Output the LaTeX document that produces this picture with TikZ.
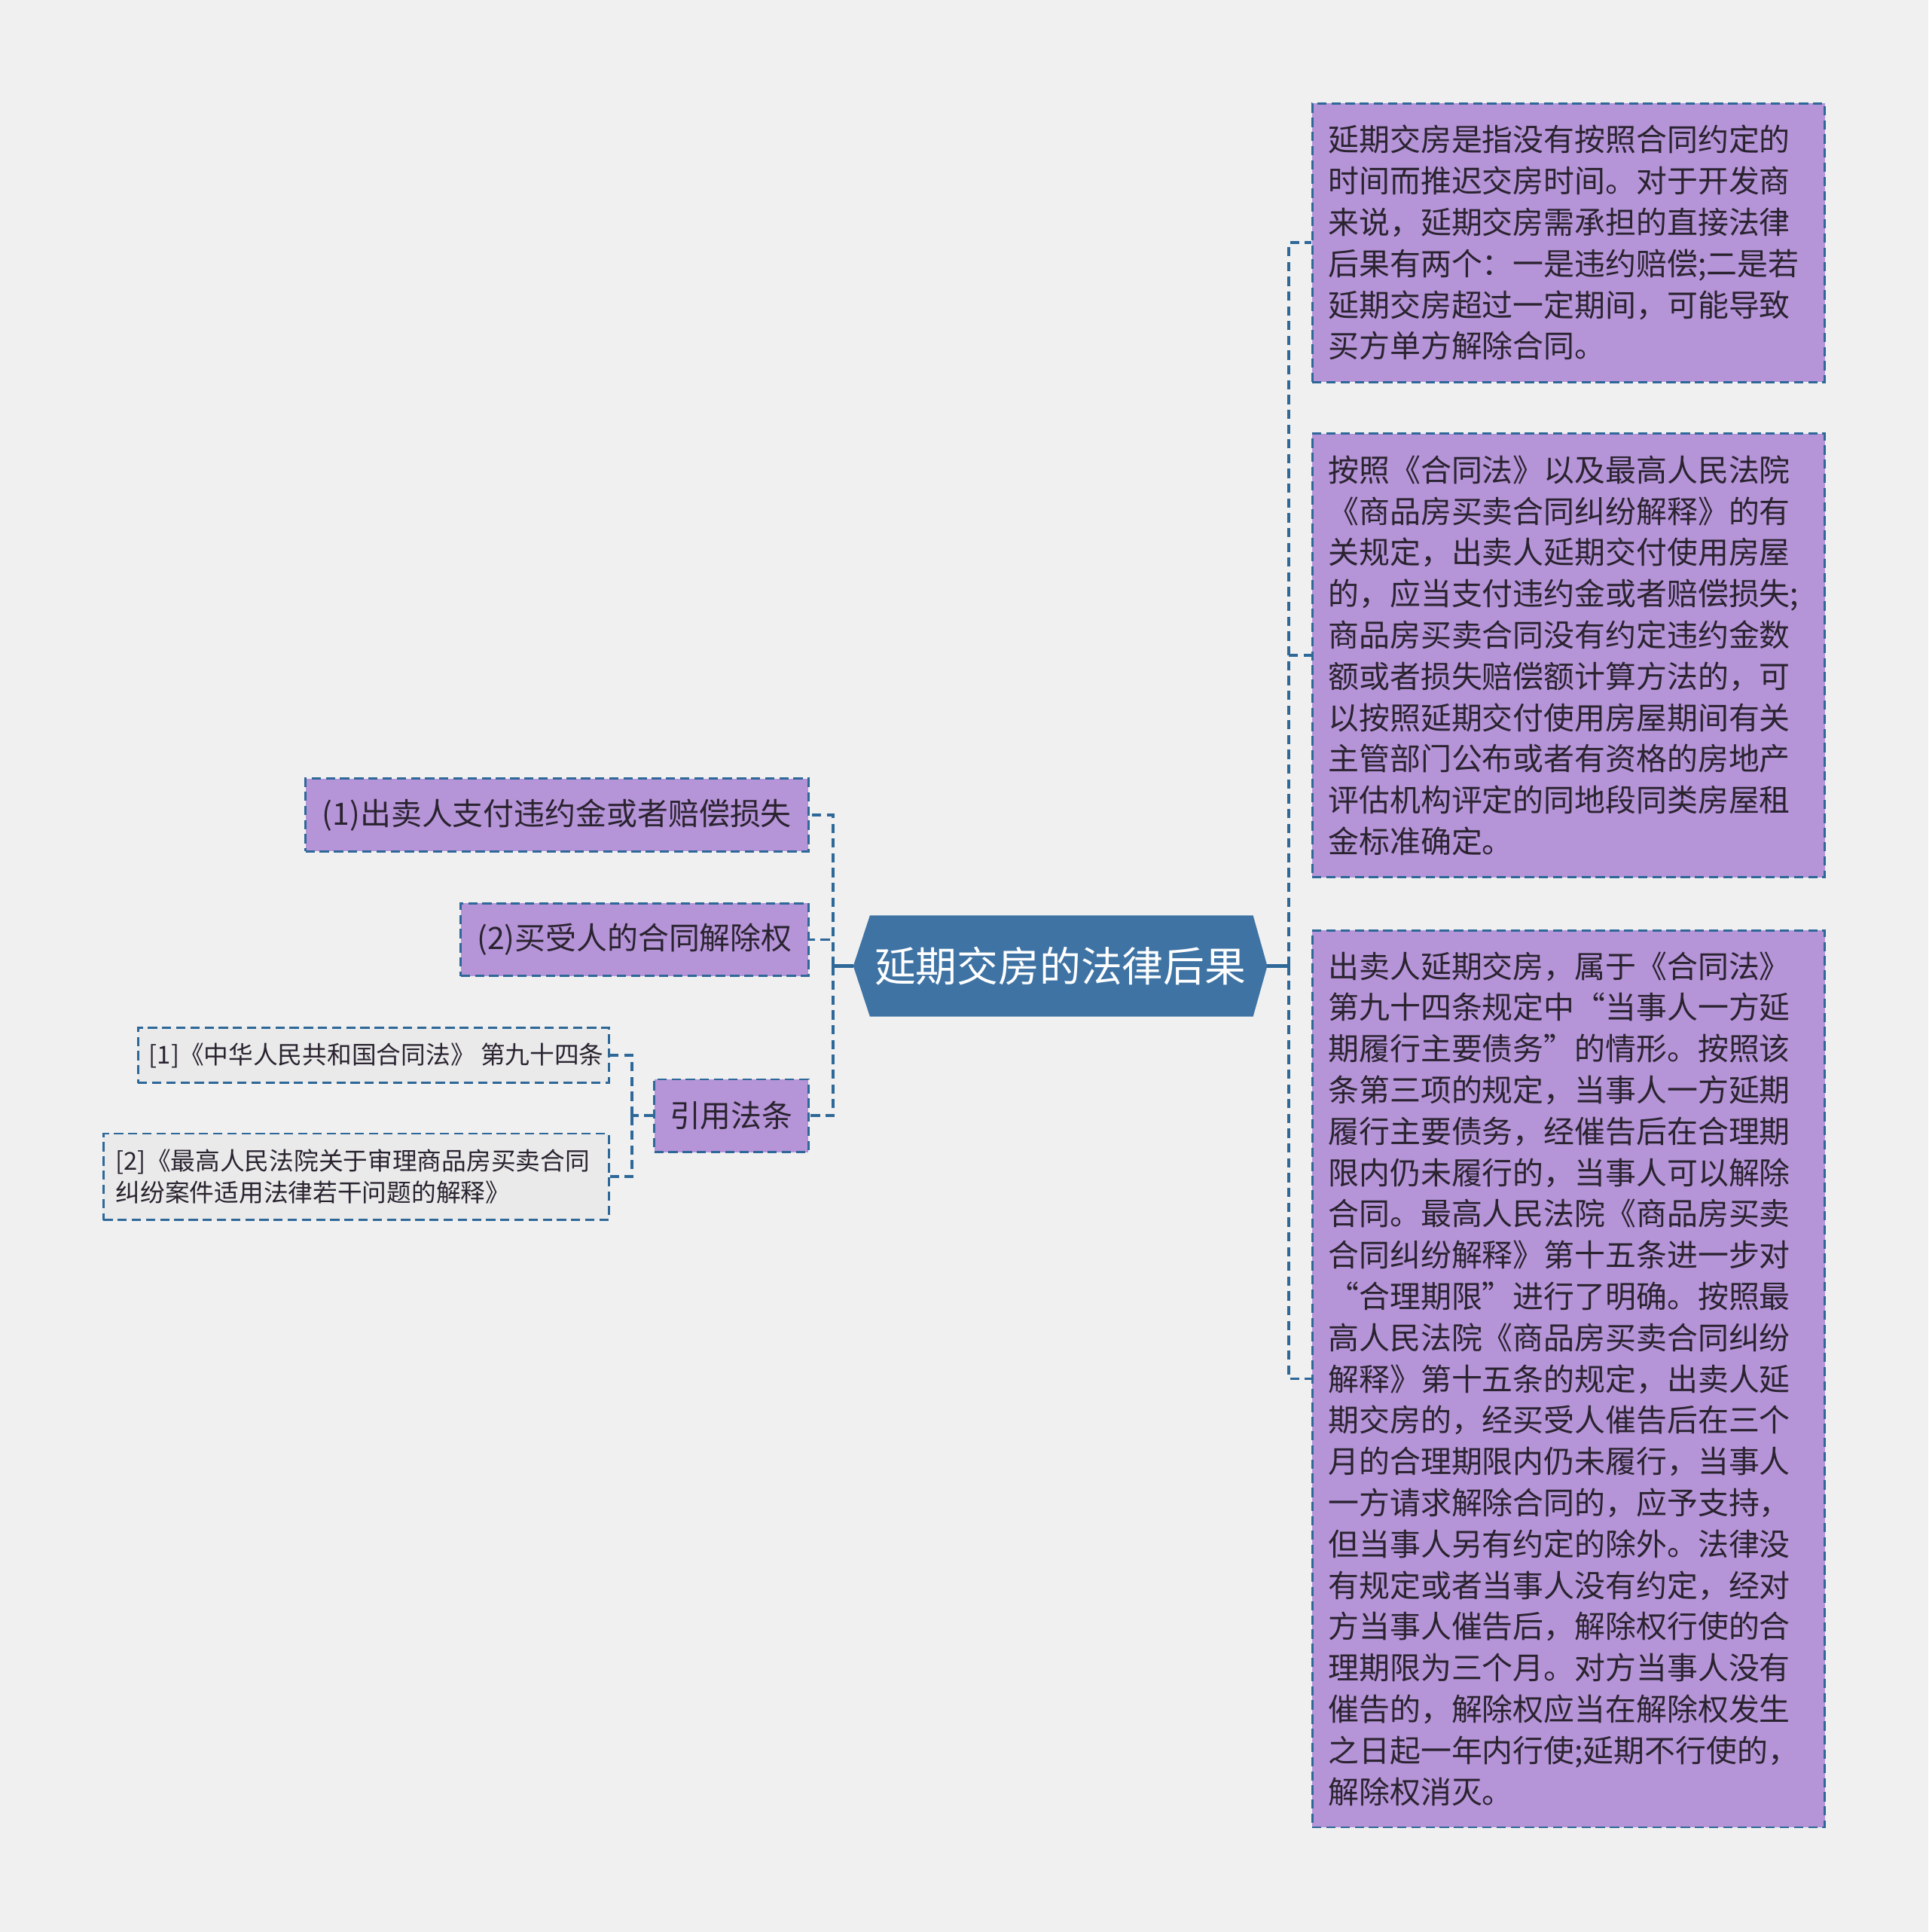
\documentclass[tikz,border=0pt]{standalone}
\usepackage{fontspec}
\setmainfont{Noto Sans CJK SC}
\usetikzlibrary{backgrounds}

\definecolor{bgcol}{RGB}{240,240,240}
\definecolor{leafpurple}{RGB}{182,148,216}
\definecolor{linkblue}{RGB}{46,104,152}
\definecolor{rootblue}{RGB}{62,115,164}
\definecolor{txtcol}{RGB}{42,35,48}
\definecolor{reffill}{RGB}{234,234,234}

\tikzset{
  leaf/.style={draw=linkblue, line width=0.7pt, dash pattern=on 3pt off 1.6pt,
    fill=leafpurple, text=txtcol, inner sep=0pt,
    font=\fontsize{10pt}{13.4pt}\selectfont},
  note/.style={leaf, align=left, text width=156pt},
  ref/.style={leaf, fill=reffill, font=\fontsize{8pt}{10.4pt}\selectfont},
  link/.style={draw=linkblue, line width=0.9pt, dash pattern=on 3pt off 1.8pt},
  trunk/.style={draw=linkblue, line width=1.4pt}
}

\begin{document}
\begin{tikzpicture}[x=0.4pt, y=-0.4pt]
  \useasboundingbox (0,0) rectangle (1565,1568);

  % centre
  \node[text=white, minimum width=134pt, minimum height=32.4pt, inner sep=0pt,
    font=\fontsize{13.4pt}{16pt}\selectfont] (root) at (860.5,784) {延期交房的法律后果};

  % right side
  \node[note, minimum width=166.4pt, minimum height=90.4pt] (b1) at (1273,197)
    {延期交房是指没有按照合同约定的\\
     时间而推迟交房时间。对于开发商\\
     来说，延期交房需承担的直接法律\\
     后果有两个：一是违约赔偿;二是若\\
     延期交房超过一定期间，可能导致\\
     买方单方解除合同。};
  \node[note, minimum width=166.4pt, minimum height=144pt] (b2) at (1273,532)
    {按照《合同法》以及最高人民法院\\
     《商品房买卖合同纠纷解释》的有\\
     关规定，出卖人延期交付使用房屋\\
     的，应当支付违约金或者赔偿损失;\\
     商品房买卖合同没有约定违约金数\\
     额或者损失赔偿额计算方法的，可\\
     以按照延期交付使用房屋期间有关\\
     主管部门公布或者有资格的房地产\\
     评估机构评定的同地段同类房屋租\\
     金标准确定。};
  \node[note, minimum width=166.4pt, minimum height=291.2pt] (b3) at (1273,1119)
    {出卖人延期交房，属于《合同法》\\
     第九十四条规定中“当事人一方延\\
     期履行主要债务”的情形。按照该\\
     条第三项的规定，当事人一方延期\\
     履行主要债务，经催告后在合理期\\
     限内仍未履行的，当事人可以解除\\
     合同。最高人民法院《商品房买卖\\
     合同纠纷解释》第十五条进一步对\\
     “合理期限”进行了明确。按照最\\
     高人民法院《商品房买卖合同纠纷\\
     解释》第十五条的规定，出卖人延\\
     期交房的，经买受人催告后在三个\\
     月的合理期限内仍未履行，当事人\\
     一方请求解除合同的，应予支持，\\
     但当事人另有约定的除外。法律没\\
     有规定或者当事人没有约定，经对\\
     方当事人催告后，解除权行使的合\\
     理期限为三个月。对方当事人没有\\
     催告的，解除权应当在解除权发生\\
     之日起一年内行使;延期不行使的，\\
     解除权消灭。};

  % left side
  \node[leaf, minimum width=163.2pt, minimum height=23.6pt] (la) at (452,661.5)
    {(1)出卖人支付违约金或者赔偿损失};
  \node[leaf, minimum width=112.8pt, minimum height=23.6pt] (lb) at (515,762.5)
    {(2)买受人的合同解除权};
  \node[leaf, minimum width=50pt, minimum height=23.6pt] (lc) at (593.5,905.5)
    {引用法条};
  \node[ref, minimum width=152.8pt, minimum height=18pt] (d1) at (303,856.5)
    {\hspace{2pt}[1]《中华人民共和国合同法》 第九十四条};
  \node[ref, align=left, text width=156pt, inner xsep=4pt, minimum height=28pt] (d2) at (289,955)
    {[2]《最高人民法院关于审理商品房买卖合同\\
     纠纷案件适用法律若干问题的解释》};

  \begin{scope}[on background layer]
    \fill[bgcol] (0,0) rectangle (1565,1568);
    \fill[rootblue] (root.west) -- ([xshift=5.4pt]root.north west)
      -- ([xshift=-4.6pt]root.north east) -- (root.east)
      -- ([xshift=-4.6pt]root.south east) -- ([xshift=5.4pt]root.south west) -- cycle;
  \end{scope}

  % connectors
  \coordinate (spR) at (1046,784);
  \coordinate (spL) at (676,784);
  \coordinate (spC) at (513,905.5);
  \draw[trunk] (root.east) -- (spR);
  \draw[trunk] (root.west) -- (spL);
  \foreach \n in {b1,b2,b3} \draw[link] (spR) |- (\n.west);
  \foreach \n in {la,lb,lc} \draw[link] (spL) |- (\n.east);
  \draw[link] (lc.west) -- (spC);
  \foreach \n in {d1,d2} \draw[link] (spC) |- (\n.east);
\end{tikzpicture}
\end{document}
